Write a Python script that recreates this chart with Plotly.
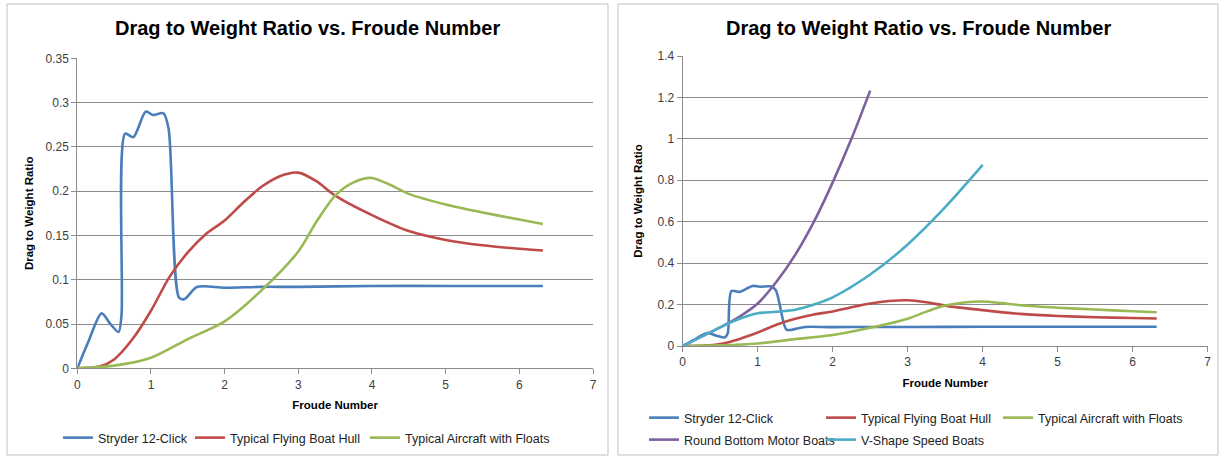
import plotly.graph_objects as go

# ---------------- data ----------------
stryder_x = [0, 0.15, 0.33, 0.45, 0.56, 0.6, 0.65, 0.76, 0.93, 1.03, 1.17, 1.24, 1.38, 1.45, 1.63, 2.0, 2.5, 3.0, 4.0, 5.0, 6.32]
stryder_y = [0, 0.03, 0.062, 0.05, 0.041, 0.06, 0.265, 0.261, 0.29, 0.286, 0.288, 0.27, 0.08, 0.078, 0.092, 0.091, 0.092, 0.092, 0.093, 0.093, 0.093]

hull_x = [0, 0.3, 0.5, 0.75, 1.0, 1.25, 1.5, 1.75, 2.0, 2.25, 2.5, 2.75, 3.0, 3.25, 3.5, 4.0, 4.5, 5.0, 5.5, 6.0, 6.32]
hull_y = [0, 0.002, 0.01, 0.033, 0.065, 0.103, 0.131, 0.152, 0.167, 0.187, 0.205, 0.217, 0.221, 0.211, 0.195, 0.173, 0.155, 0.145, 0.139, 0.135, 0.133]

floats_x = [0, 0.5, 1.0, 1.5, 2.0, 2.5, 3.0, 3.25, 3.5, 3.75, 4.0, 4.25, 4.5, 5.0, 5.5, 6.0, 6.32]
floats_y = [0, 0.003, 0.012, 0.033, 0.053, 0.088, 0.132, 0.166, 0.195, 0.21, 0.215, 0.207, 0.197, 0.185, 0.176, 0.168, 0.163]

round_x = [0, 0.25, 0.5, 0.75, 1.0, 1.25, 1.5, 1.75, 2.0, 2.25, 2.5]
round_y = [0, 0.045, 0.09, 0.14, 0.205, 0.31, 0.44, 0.6, 0.79, 1.0, 1.233]

vshape_x = [0, 0.25, 0.5, 0.75, 1.0, 1.25, 1.5, 1.75, 2.0, 2.5, 3.0, 3.5, 4.0]
vshape_y = [0, 0.045, 0.09, 0.13, 0.158, 0.165, 0.175, 0.2, 0.235, 0.345, 0.49, 0.67, 0.874]

title_text = "Drag to Weight Ratio vs. Froude Number"
x_title = "Froude Number"
y_title = "Drag to Weight Ratio"

# ---------------- styles ----------------
C_BLUE = "#4A7EBB"
C_RED = "#BE4B48"
C_GREEN = "#98B954"
C_PURPLE = "#7D60A0"
C_CYAN = "#4BACC6"
FONT = "Liberation Sans, Arial, sans-serif"
TXT = "#404040"
GRID = "#8c8c8c"

W, H = 1220, 459


def px(x):
    return x / W


def py(y):
    return 1 - y / H


fig = go.Figure()


def add(xs, ys, name, color, xa, ya, legend):
    fig.add_trace(go.Scatter(
        x=xs, y=ys, name=name, mode="lines", showlegend=True,
        line=dict(color=color, width=2.6, shape="spline", smoothing=0.8),
        xaxis=xa, yaxis=ya, legend=legend, hoverinfo="x+y+name"))


# left chart
add(stryder_x, stryder_y, "Stryder 12-Click", C_BLUE, "x", "y", "legend")
add(hull_x, hull_y, "Typical Flying Boat Hull", C_RED, "x", "y", "legend2")
add(floats_x, floats_y, "Typical Aircraft with Floats", C_GREEN, "x", "y", "legend3")
# right chart
add(stryder_x, stryder_y, "Stryder 12-Click", C_BLUE, "x2", "y2", "legend4")
add(hull_x, hull_y, "Typical Flying Boat Hull", C_RED, "x2", "y2", "legend4")
add(floats_x, floats_y, "Typical Aircraft with Floats", C_GREEN, "x2", "y2", "legend6")
add(round_x, round_y, "Round Bottom Motor Boats", C_PURPLE, "x2", "y2", "legend5")
add(vshape_x, vshape_y, "V-Shape Speed Boats", C_CYAN, "x2", "y2", "legend5")

axis_common = dict(
    showline=True, linecolor=GRID, linewidth=1,
    ticks="outside", ticklen=5, tickcolor=GRID,
    tickfont=dict(family=FONT, size=12, color=TXT),
    zeroline=False, automargin=False,
)
title_font = dict(family=FONT, size=11.5, color="#000")

xl = dict(axis_common, range=[0, 7], dtick=1, showgrid=False,
          title=dict(text="<b>" + x_title + "</b>", font=title_font, standoff=10))
fig.update_layout(
    xaxis=dict(xl, domain=[px(77.3), px(593)], anchor="y"),
    yaxis=dict(axis_common, range=[0, 0.35], dtick=0.05, showgrid=True, gridcolor=GRID, gridwidth=1,
               domain=[py(368.3), py(58.4)], anchor="x",
               title=dict(text="<b>" + y_title + "</b>", font=title_font, standoff=9)),
    xaxis2=dict(xl, domain=[px(682.7), px(1207.7)], anchor="y2"),
    yaxis2=dict(axis_common, range=[0, 1.4], dtick=0.2, showgrid=True, gridcolor=GRID, gridwidth=1,
                domain=[py(346), py(56)], anchor="x2",
                title=dict(text="<b>" + y_title + "</b>", font=title_font, standoff=12)),
)

leg_common = dict(orientation="h", bgcolor="rgba(0,0,0,0)", font=dict(family=FONT, size=12.5, color="#222"),
                  yanchor="middle", xanchor="left", tracegroupgap=0, visible=True)
fig.update_layout(
    showlegend=True,
    legend=dict(leg_common, x=px(58), y=py(438)),
    legend2=dict(leg_common, x=px(190), y=py(438)),
    legend3=dict(leg_common, x=px(365), y=py(438)),
    legend4=dict(leg_common, x=px(644), y=py(418), entrywidth=132),
    legend6=dict(leg_common, x=px(998), y=py(418)),
    legend5=dict(leg_common, x=px(644), y=py(440), entrywidth=132),
)

# chart frames
for x0, x1 in [(7, 608), (618, 1218)]:
    fig.add_shape(type="rect", xref="paper", yref="paper",
                  x0=px(x0), x1=px(x1), y0=py(455), y1=py(4),
                  line=dict(color="#bfbfbf", width=1), fillcolor="rgba(0,0,0,0)", layer="below")

# titles
for cx in [307, 918]:
    fig.add_annotation(text="<b>" + title_text + "</b>", xref="paper", yref="paper",
                       x=px(cx), y=py(28), xanchor="center", yanchor="middle", showarrow=False,
                       font=dict(family=FONT, size=20, color="#000"))

fig.update_layout(
    width=W, height=H, margin=dict(l=0, r=0, t=0, b=0),
    paper_bgcolor="white", plot_bgcolor="white",
    font=dict(family=FONT, color=TXT),
)

fig.write_html("out.html", config={"displayModeBar": False},
               post_script="document.body.style.margin='0';document.body.style.padding='0';")
